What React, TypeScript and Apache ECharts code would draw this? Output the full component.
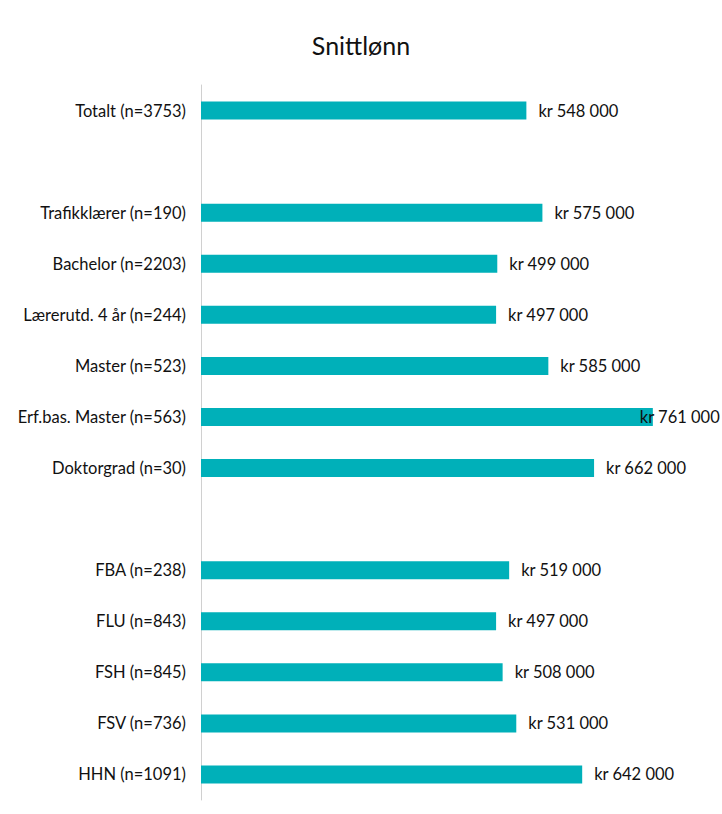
import React, { useEffect, useRef } from "react";
import * as echarts from "echarts";

const categories = [
  "Totalt (n=3753)",
  " ",
  "Trafikklærer (n=190)",
  "Bachelor (n=2203)",
  "Lærerutd. 4 år (n=244)",
  "Master (n=523)",
  "Erf.bas. Master (n=563)",
  "Doktorgrad (n=30)",
  "  ",
  "FBA (n=238)",
  "FLU (n=843)",
  "FSH (n=845)",
  "FSV (n=736)",
  "HHN (n=1091)",
];

const salaries: (number | null)[] = [
  548000, null, 575000, 499000, 497000, 585000, 761000, 662000, null, 519000,
  497000, 508000, 531000, 642000,
];

const axisMax = 800000;

function fmt(v: number): string {
  return "kr " + String(v).replace(/\B(?=(\d{3})+(?!\d))/g, " ");
}

export default function App() {
  const ref = useRef<HTMLDivElement>(null);
  useEffect(() => {
    document.body.style.margin = "0";
    if (!ref.current) return;
    const chart = echarts.init(ref.current, null, { renderer: "svg" });
    const maxVal = Math.max(...(salaries.filter((v) => v != null) as number[]));
    chart.setOption({
      animation: false,
      title: {
        text: "Snittlønn",
        left: "center",
        top: 27,
        textStyle: {
          fontFamily: "Lato",
          fontSize: 25,
          fontWeight: "normal",
          color: "#111111",
        },
      },
      grid: { left: 201, top: 85, width: 475, bottom: 14 },
      xAxis: {
        type: "value",
        min: 0,
        max: axisMax,
        show: false,
        splitLine: { show: false },
      },
      yAxis: {
        type: "category",
        inverse: true,
        data: categories,
        axisLine: { show: true, lineStyle: { color: "#D0D0D0", width: 1 } },
        axisTick: { show: false },
        axisLabel: {
          margin: 15,
          fontFamily: "Lato",
          fontSize: 16.5,
          color: "#111111",
        },
      },
      series: [
        {
          type: "bar",
          data: salaries.map((v) =>
            v == null
              ? "-"
              : v === maxVal
              ? { value: v, label: { distance: -13 } }
              : v
          ),
          barWidth: 18,
          itemStyle: { color: "#00B0B9" },
          label: {
            show: true,
            position: "right",
            distance: 12,
            fontFamily: "Lato",
            fontSize: 16.5,
            color: "#111111",
            formatter: (p: any) => fmt(p.value as number),
          },
        },
      ],
    });
    return () => chart.dispose();
  }, []);
  return <div ref={ref} style={{ width: 722, height: 814 }} />;
}
